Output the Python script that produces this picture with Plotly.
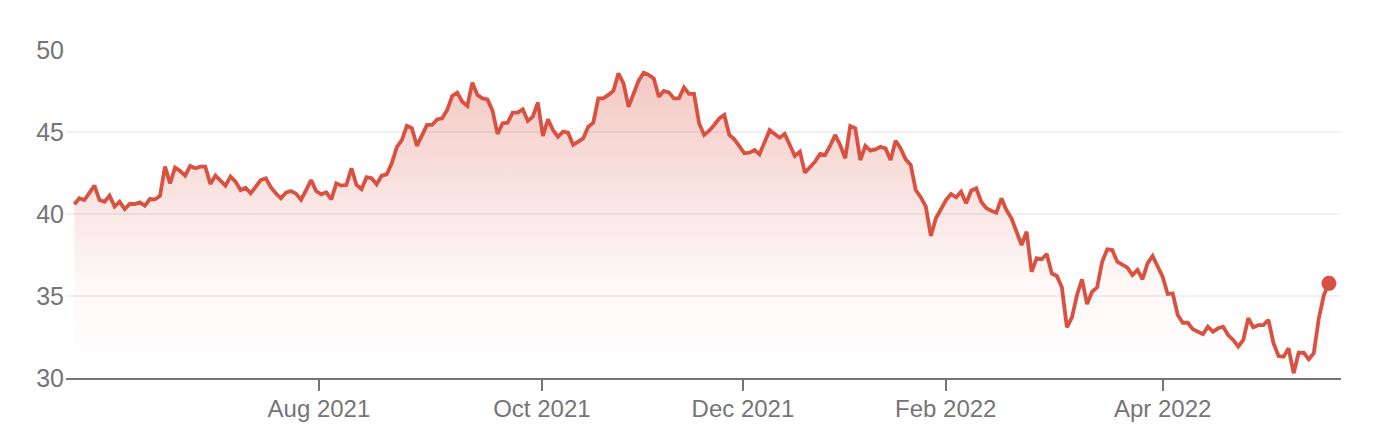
import plotly.graph_objects as go

prices = [
    40.59, 40.96, 40.85, 41.32, 41.73, 40.85, 40.75, 41.12, 40.45, 40.75, 40.30, 40.61, 40.61, 40.71, 40.51, 40.91,
    40.89, 41.10, 42.89, 41.87, 42.83, 42.62, 42.34, 42.93, 42.79, 42.89, 42.89, 41.83, 42.34, 42.03, 41.73, 42.28,
    41.97, 41.46, 41.60, 41.26, 41.67, 42.07, 42.18, 41.63, 41.26, 40.96, 41.30, 41.40, 41.24, 40.87, 41.46, 42.07,
    41.40, 41.20, 41.32, 40.89, 41.87, 41.73, 41.77, 42.79, 41.77, 41.52, 42.24, 42.18, 41.81, 42.34, 42.42,
    43.09, 44.07, 44.51, 45.37, 45.23, 44.15, 44.76, 45.43, 45.43, 45.77, 45.83, 46.34, 47.20, 47.40, 46.85, 46.59,
    48.01, 47.26, 47.05, 46.99, 46.30, 44.88, 45.53, 45.57, 46.18, 46.18, 46.38, 45.67, 45.93, 46.79, 44.76, 45.77,
    45.12, 44.71, 45.02, 44.96, 44.21, 44.41, 44.61, 45.32, 45.57, 47.05, 47.05, 47.26, 47.52, 48.58, 47.97, 46.54,
    47.36, 48.13, 48.62, 48.48, 48.27, 47.15, 47.50, 47.42, 47.05, 47.05, 47.72, 47.32, 47.32, 45.53,
    44.82, 45.08, 45.43, 45.83, 46.04, 44.82, 44.55, 44.10, 43.70, 43.74, 43.90, 43.64, 44.41, 45.12, 44.88, 44.65,
    44.88, 44.21, 43.54, 43.80, 42.52, 42.85, 43.19, 43.66, 43.60, 44.15, 44.82, 44.21, 43.40, 45.37, 45.23, 43.29,
    44.15, 43.86, 43.94, 44.10, 44.00, 43.29, 44.47, 44.00, 43.33, 42.99, 41.46, 41.02, 40.45, 38.66, 39.74, 40.29,
    40.85, 41.22, 41.02, 41.36, 40.65, 41.42, 41.57, 40.75, 40.35, 40.20, 40.08, 40.96, 40.24, 39.74,
    39.00, 38.11, 38.92, 36.48, 37.30, 37.24, 37.56, 36.38, 36.22, 35.53, 33.09, 33.70, 35.06, 36.02, 34.51, 35.26,
    35.53, 37.09, 37.85, 37.80, 37.09, 36.89, 36.73, 36.28, 36.59, 36.02, 36.99, 37.44, 36.75, 36.18, 35.12, 35.16,
    33.84, 33.37, 33.37, 32.97, 32.82, 32.68, 33.13, 32.82, 33.03, 33.13, 32.62, 32.32, 31.91, 32.32, 33.64, 33.09,
    33.23, 33.23, 33.54, 32.12, 31.34, 31.30, 31.81, 30.29, 31.54, 31.54, 31.14, 31.51, 33.64, 35.06, 35.77,
]
sessions = list(range(len(prices)))

tick_positions = [48.55, 92.8, 132.7, 172.95, 216.0]
tick_labels = ["Aug 2021", "Oct 2021", "Dec 2021", "Feb 2022", "Apr 2022"]
y_ticks = [30, 35, 40, 45, 50]

RED = "#d95140"
GRAY = "#757575"

fig = go.Figure()
fig.add_trace(go.Scatter(
    x=sessions, y=prices, mode="lines",
    line=dict(color=RED, width=3.8),
    fill="tozeroy",
    fillgradient=dict(
        type="vertical", start=30, stop=49,
        colorscale=[[0, "rgba(217,81,64,0)"], [0.3, "rgba(217,81,64,0.04)"], [1, "rgba(217,81,64,0.32)"]],
    ),
    hoverinfo="skip", showlegend=False,
))
fig.add_trace(go.Scatter(
    x=[sessions[-1]], y=[prices[-1]], mode="markers",
    marker=dict(color=RED, size=15),
    hoverinfo="skip", showlegend=False,
))

# the page body adds an 8px offset, so the figure is 8px smaller and margins shifted
fig.update_layout(
    width=1372, height=436,
    margin=dict(l=58, r=39, t=42, b=66),
    paper_bgcolor="white", plot_bgcolor="white",
    font=dict(family="Liberation Sans, Arial, sans-serif", size=24, color=GRAY),
    showlegend=False,
)
fig.update_xaxes(
    range=[-1.65, len(prices) + 1.4],
    tickmode="array", tickvals=tick_positions, ticktext=tick_labels,
    ticks="outside", ticklen=11, tickwidth=1.5, tickcolor=GRAY,
    showgrid=False, zeroline=False,
    showline=True, linecolor=GRAY, linewidth=2,
    tickfont=dict(size=24, color=GRAY),
    ticklabelstandoff=-3,
)
fig.update_yaxes(
    range=[30, 50],
    tickmode="array", tickvals=y_ticks,
    showgrid=True, gridcolor="#f1f1f1", gridwidth=2,
    zeroline=False, showline=False, ticks="",
    tickfont=dict(size=25, color=GRAY),
    ticklabelstandoff=1,
)

fig.write_html("out.html")
